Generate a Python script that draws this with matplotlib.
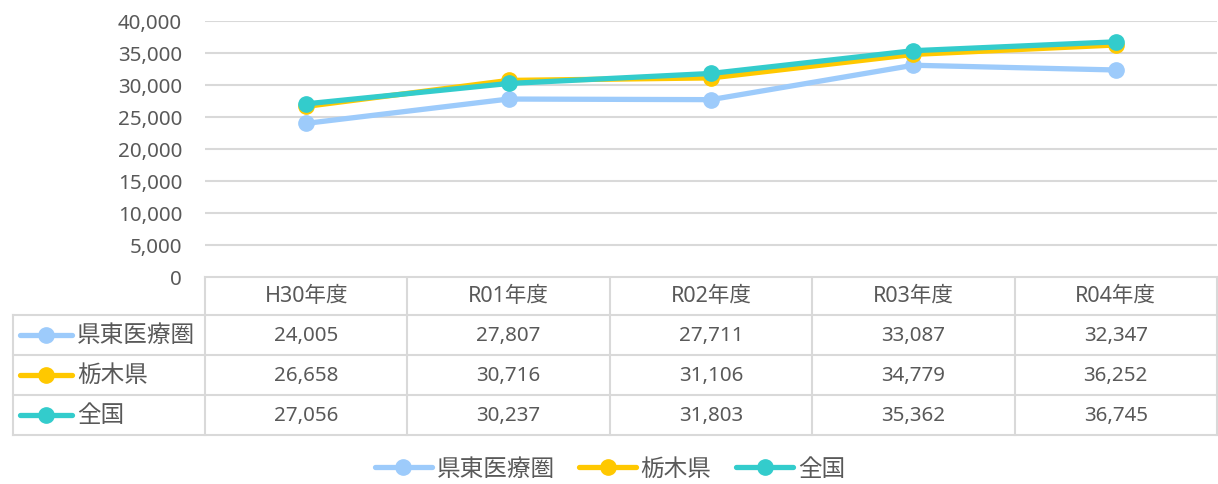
import matplotlib.pyplot as plt
from matplotlib.lines import Line2D

plt.rcParams['font.family'] = ['Noto Sans', 'Noto Sans CJK JP', 'DejaVu Sans']

years = ['H30年度', 'R01年度', 'R02年度', 'R03年度', 'R04年度']
series_names = ['県東医療圏', '栃木県', '全国']
kento = [24005, 27807, 27711, 33087, 32347]
tochigi = [26658, 30716, 31106, 34779, 36252]
zenkoku = [27056, 30237, 31803, 35362, 36745]
series_values = [kento, tochigi, zenkoku]
colors = ['#9DCBFB', '#FFC800', '#33CCCC']
yticks = [0, 5000, 10000, 15000, 20000, 25000, 30000, 35000, 40000]

W, H = 1218, 485
txt = '#595959'
grid = '#D9D9D9'
fs_num = 14.8
fs_hdr = 15.5
fs_jp = 17

fig = plt.figure(figsize=(W / 100, H / 100), dpi=100)

# plot area (pixel layout)
left, right, top, bottom = 205, 1217, 22, 278
ax = fig.add_axes([left / W, 1 - bottom / H, (right - left) / W, (bottom - top) / H])
x = range(len(years))
for vals, c in zip(series_values, colors):
    ax.plot(x, vals, color=c, lw=3.8, marker='o', ms=11, solid_capstyle='round', zorder=3)
ax.set_xlim(-0.5, len(years) - 0.5)
ax.set_ylim(0, 40000)
ax.set_yticks(yticks)
ax.set_yticklabels([f'{v:,}' for v in yticks], color=txt, fontsize=fs_num)
ax.tick_params(axis='y', length=0, pad=16.5)
ax.set_xticks([])
ax.grid(axis='y', color=grid, lw=1.5)
ax.set_axisbelow(True)
for s in ax.spines.values():
    s.set_visible(False)

# data table underneath, drawn in pixel coordinates
tab = fig.add_axes([0, 0, 1, 1], zorder=-1)
tab.set_xlim(0, W)
tab.set_ylim(H, 0)
tab.axis('off')
col_w = (right - left) / len(years)
row_y = [278, 316, 356, 396, 436]
tab_left = 13
lk = dict(color=grid, lw=1.5)
tab.plot([left, right], [row_y[0], row_y[0]], **lk)
for y in row_y[1:]:
    tab.plot([tab_left, right], [y, y], **lk)
tab.plot([tab_left, tab_left], [row_y[1], row_y[-1]], **lk)
for i in range(len(years) + 1):
    xx = left + i * col_w
    tab.plot([xx, xx], [row_y[0], row_y[-1]], **lk)

for i, yr in enumerate(years):
    tab.text(left + (i + 0.5) * col_w, (row_y[0] + row_y[1]) / 2, yr,
             ha='center', va='center', color=txt, fontsize=fs_hdr)
for r, (name, vals, c) in enumerate(zip(series_names, series_values, colors)):
    yc = (row_y[r + 1] + row_y[r + 2]) / 2
    tab.plot([20, 72], [yc, yc], color=c, lw=3.8, solid_capstyle='round')
    tab.plot([46], [yc], color=c, marker='o', ms=11)
    tab.text(77, yc, name, ha='left', va='center', color=txt, fontsize=fs_jp)
    for i, v in enumerate(vals):
        tab.text(left + (i + 0.5) * col_w, yc, f'{v:,}',
                 ha='center', va='center', color=txt, fontsize=fs_num)

handles = [Line2D([], [], color=c, lw=3.8, marker='o', ms=11, solid_capstyle='round')
           for c in colors]
leg = fig.legend(handles, series_names, loc='center', bbox_to_anchor=(610 / W, 1 - 470 / H),
                 ncol=3, frameon=False, fontsize=fs_jp, handlelength=2.4,
                 handletextpad=0.2, columnspacing=1.05)
for t in leg.get_texts():
    t.set_color(txt)

fig.savefig('out.png', dpi=100)
